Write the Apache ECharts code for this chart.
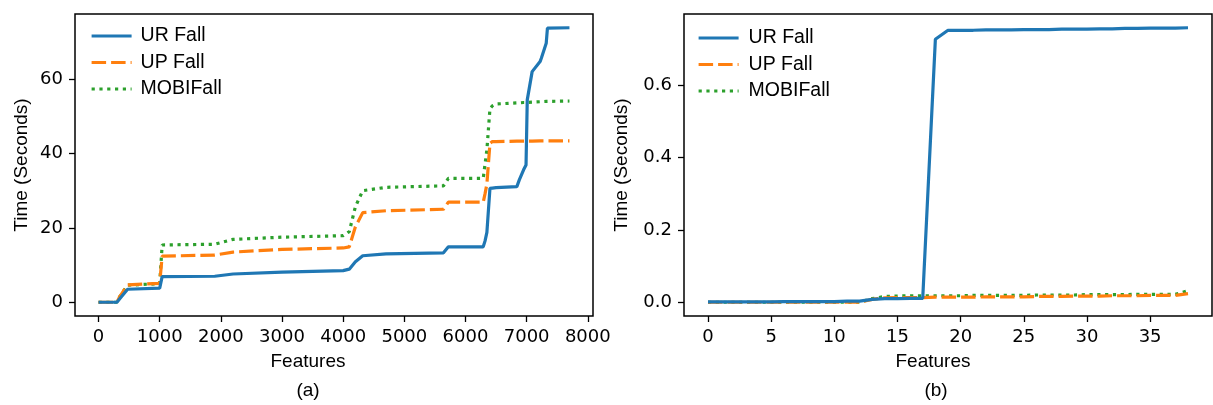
<!DOCTYPE html>
<html>
<head>
<meta charset="utf-8">
<script src="https://cdn.jsdelivr.net/npm/echarts@6/dist/echarts.min.js"></script>
<style>
  html, body { margin: 0; padding: 0; background: #fff; }
  #chart { width: 1213px; height: 405px; }
</style>
</head>
<body>
<div id="chart"></div>
<script>
// panel (a): time vs number of features
var featsA = [0, 300, 350, 475, 1000, 1040, 1900, 2200, 3000, 4000, 4100, 4200, 4320, 4700, 5640, 5720, 6290, 6320, 6350, 6400, 6440, 6500, 6840, 6880, 6950, 6990, 7010, 7090, 7220, 7240, 7320, 7340, 7700]
var urA = [0, 0, 1.0, 3.5, 3.8, 6.9, 7.0, 7.6, 8.1, 8.5, 8.9, 10.9, 12.5, 13.0, 13.3, 14.9, 14.9, 16.5, 18.8, 30.6, 30.7, 30.8, 31.1, 32.9, 35.6, 36.9, 54.4, 62.0, 64.7, 65.6, 69.6, 73.7, 73.8]
var upA = [0, 0, 1.6, 4.7, 5.1, 12.4, 12.7, 13.5, 14.2, 14.6, 14.9, 20.3, 24.1, 24.6, 25.0, 26.9, 26.9, 29.2, 31.8, 42.7, 43.2, 43.2, 43.3, 43.3, 43.3, 43.3, 43.3, 43.3, 43.4, 43.4, 43.4, 43.4, 43.4]
var mobiA = [0, 0, 1.6, 4.6, 5.0, 15.4, 15.6, 16.9, 17.5, 17.9, 19.0, 25.7, 30.0, 30.9, 31.3, 33.3, 33.3, 33.5, 41.0, 52.0, 52.8, 53.3, 53.6, 53.6, 53.7, 53.7, 53.7, 53.8, 53.9, 53.9, 54.0, 54.0, 54.1]

// panel (b)
var featsB = [0, 1, 2, 3, 4, 5, 6, 7, 8, 9, 10, 11, 12, 13, 14, 15, 16, 17, 18, 19, 20, 21, 22, 23, 24, 25, 26, 27, 28, 29, 30, 31, 32, 33, 34, 35, 36, 37, 38]
var urB = [0.001, 0.001, 0.001, 0.001, 0.001, 0.001, 0.002, 0.002, 0.002, 0.002, 0.002, 0.003, 0.003, 0.008, 0.010, 0.010, 0.011, 0.011, 0.727, 0.752, 0.752, 0.752, 0.753, 0.753, 0.753, 0.754, 0.754, 0.754, 0.755, 0.755, 0.755, 0.756, 0.756, 0.757, 0.757, 0.758, 0.758, 0.758, 0.759]
var upB = [0, 0, 0, 0, 0, 0, 0, 0, 0, 0, 0, 0, 0, 0.008, 0.012, 0.013, 0.013, 0.013, 0.014, 0.014, 0.014, 0.014, 0.015, 0.015, 0.015, 0.015, 0.016, 0.016, 0.016, 0.017, 0.017, 0.017, 0.018, 0.018, 0.018, 0.019, 0.019, 0.019, 0.024]
var mobiB = [0, 0, 0, 0, 0, 0, 0, 0, 0, 0, 0, 0, 0, 0.010, 0.016, 0.017, 0.018, 0.018, 0.018, 0.018, 0.018, 0.019, 0.019, 0.019, 0.019, 0.019, 0.020, 0.020, 0.020, 0.020, 0.021, 0.021, 0.021, 0.021, 0.022, 0.022, 0.022, 0.022, 0.032]

var xTicksA = [0, 1000, 2000, 3000, 4000, 5000, 6000, 7000, 8000]
var yTicksA = [0, 20, 40, 60]
var xTicksB = [0, 5, 10, 15, 20, 25, 30, 35]
var yTicksB = [0, 0.2, 0.4, 0.6]

var names = ['UR Fall', 'UP Fall', 'MOBIFall']
var colors = ['#1f77b4', '#ff7f0e', '#2ca02c']
var dashes = ['solid', [14.5, 5], [3.2, 4.6]]

function pairs(xs, ys) {
  return xs.map(function (x, i) { return [x, ys[i]] })
}

var tickFont = { fontFamily: 'DejaVu Sans', fontSize: 18, color: '#000' }
var textFont = 'Liberation Sans'

function xAxisOf(idx, min, max, ticks) {
  return {
    type: 'value', gridIndex: idx, min: min, max: max,
    axisLine: { show: false, onZero: false },
    axisTick: { show: true, length: 6, lineStyle: { color: '#000', width: 1.3 }, customValues: ticks },
    axisLabel: Object.assign({ margin: 12, customValues: ticks, formatter: function (v) { return String(v) } }, tickFont),
    splitLine: { show: false }
  }
}

function yAxisOf(idx, min, max, ticks, gap, fmt) {
  return {
    type: 'value', gridIndex: idx, min: min, max: max,
    name: 'Time (Seconds)', nameLocation: 'middle', nameGap: gap,
    nameTextStyle: { fontFamily: textFont, fontSize: 19, color: '#000' },
    axisLine: { show: false, onZero: false },
    axisTick: { show: true, length: 6, lineStyle: { color: '#000', width: 1.3 }, customValues: ticks },
    axisLabel: Object.assign({ margin: 12, customValues: ticks, formatter: fmt }, tickFont),
    splitLine: { show: false }
  }
}

var series = []
;[[urA, upA, mobiA, featsA, 0], [urB, upB, mobiB, featsB, 1]].forEach(function (set) {
  for (var k = 0; k < 3; k++) {
    series.push({
      name: names[k], type: 'line',
      xAxisIndex: set[4], yAxisIndex: set[4],
      data: pairs(set[3], set[k]),
      symbol: 'none', animation: false,
      lineStyle: { color: colors[k], width: 3.2, type: dashes[k] },
      itemStyle: { color: colors[k] },
      z: 3 - k
    })
  }
})

function legendOf(left, top, pad) {
  return {
    orient: 'vertical', left: left, top: top, padding: 0,
    itemWidth: 40, itemHeight: 10, itemGap: 6.5,
    data: names,
    itemStyle: { opacity: 0 },
    lineStyle: { width: 3.2 },
    textStyle: { fontFamily: textFont, fontSize: 19.5, lineHeight: 20, color: '#000', padding: [0, 0, 0, pad] },
    selectedMode: false
  }
}

function label(x, y, text) {
  return { type: 'text', x: x, y: y, style: { text: text, fontFamily: textFont, fontSize: 19, fill: '#000', align: 'center', verticalAlign: 'middle' } }
}

var chart = echarts.init(document.getElementById('chart'))
chart.setOption({
  backgroundColor: '#fff',
  animation: false,
  grid: [
    { left: 75, top: 14, width: 518, height: 302, show: true, borderColor: '#000', borderWidth: 1.5 },
    { left: 684, top: 14, width: 528, height: 302, show: true, borderColor: '#000', borderWidth: 1.5 }
  ],
  xAxis: [
    xAxisOf(0, -385, 8085, xTicksA),
    xAxisOf(1, -1.9, 39.9, xTicksB)
  ],
  yAxis: [
    yAxisOf(0, -3.69, 77.49, yTicksA, 44, function (v) { return String(v) }),
    yAxisOf(1, -0.038, 0.797, yTicksB, 53, function (v) { return v.toFixed(1) })
  ],
  legend: [legendOf(90, 26, 4), legendOf(697, 28, 5)],
  graphic: [
    label(308, 362, 'Features'),
    label(308, 391, '(a)'),
    label(933, 362, 'Features'),
    label(936, 391, '(b)')
  ],
  series: series
})
</script>
</body>
</html>
